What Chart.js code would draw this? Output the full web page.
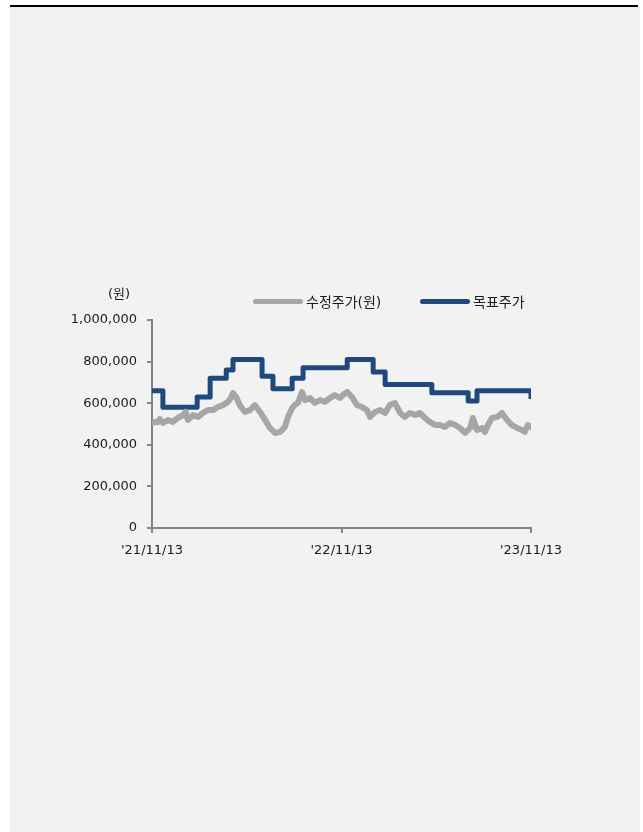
<!DOCTYPE html>
<html lang="ko">
<head>
<meta charset="utf-8">
<title>수정주가 / 목표주가</title>
<script src="https://cdn.jsdelivr.net/npm/chart.js@4/dist/chart.umd.min.js"></script>
<style>
    html, body { margin: 0; padding: 0; background: #ffffff; }
    body { width: 643px; height: 832px; position: relative; overflow: hidden;
           font-family: 'DejaVu Sans', 'Noto Sans CJK KR', sans-serif; color: #1a1a1a; }
    .top-rule { position: absolute; left: 10px; top: 5px; width: 628px; height: 2px; background: #000; }
    .panel { position: absolute; left: 10px; top: 7px; width: 630px; height: 825px; background: #f2f2f2; }
    #chartBox { position: absolute; left: 0; top: 0; width: 630px; height: 825px; }
    .unit { position: absolute; left: 98px; top: 276px; font-size: 13px; }
    .legend { position: absolute; top: 284px; font-size: 14px; display: flex; align-items: center; }
    .legend i { display: inline-block; width: 50px; height: 5px; border-radius: 3px; margin-right: 3px; }
</style>
</head>
<body>
<div class="top-rule"></div>
<div class="panel">
    <div id="chartBox"><canvas id="priceChart"></canvas></div>
    <div class="unit">(원)</div>
    <div class="legend" style="left:243px"><i style="background:#a6a6a6"></i>수정주가(원)</div>
    <div class="legend" style="left:410px"><i style="background:#1f497d"></i>목표주가</div>
</div>

<script>
// 날짜: '21/11/13 기준 경과일
const X_TICKS = [0, 365, 730];
const X_LABELS = ["'21/11/13", "'22/11/13", "'23/11/13"];

// 수정주가
const PRICE_DAYS = [0, 6, 12, 15, 21, 31, 40, 50, 60, 65, 69, 79, 89, 98, 108, 118, 127, 137, 146, 152,
    156, 162, 169, 179, 189, 198, 208, 218, 227, 237, 247, 256, 262, 270, 275, 281, 289, 295, 304, 314,
    324, 333, 343, 352, 362, 370, 376, 385, 395, 404, 414, 420, 430, 439, 449, 458, 468, 478, 487, 497,
    507, 516, 526, 535, 545, 555, 564, 574, 584, 593, 603, 613, 618, 626, 636, 641, 647, 655, 665, 674,
    684, 693, 703, 713, 718, 724, 730];
const PRICE_VALUES = [505000, 510000, 510000, 524000, 505000, 519000, 510000, 529000, 543000, 558000,
    519000, 543000, 534000, 553000, 567000, 567000, 582000, 591000, 606000, 625000,
    649000, 630000, 591000, 558000, 567000, 591000, 558000, 519000, 481000, 457000,
    462000, 486000, 534000, 577000, 591000, 601000, 654000, 615000, 625000, 601000,
    615000, 606000, 625000, 639000, 625000, 644000, 654000, 630000, 591000, 582000,
    567000, 534000, 558000, 567000, 553000, 591000, 601000, 553000, 534000, 553000,
    543000, 553000, 529000, 510000, 495000, 495000, 486000, 505000, 495000, 481000,
    457000, 481000, 529000, 471000, 481000, 462000, 495000, 529000, 534000, 553000,
    519000, 495000, 481000, 471000, 462000, 495000, 486000];

// 목표주가 (변경일, 변경 후 가격)
const TARGET_DAYS = [0, 21, 87, 112, 143, 156, 212, 233, 270, 291, 376, 426, 449, 539, 609, 626, 730];
const TARGET_VALUES = [660000, 580000, 630000, 720000, 760000, 810000, 730000, 670000, 720000, 770000,
    810000, 750000, 690000, 650000, 610000, 660000, 620000];

const FONT = "'DejaVu Sans', 'Noto Sans CJK KR', sans-serif";
const AXIS_COLOR = '#858585';

function toPoints(xs, ys) {
    return xs.map((x, i) => ({ x: x, y: ys[i] }));
}

window.onload = function() {
    const ctx = document.getElementById('priceChart');
    new Chart(ctx, {
        type: 'line',
        data: {
            datasets: [{
                label: '수정주가(원)',
                data: toPoints(PRICE_DAYS, PRICE_VALUES),
                borderColor: '#a6a6a6',
                borderWidth: 6,
                pointRadius: 0,
                tension: 0,
                borderJoinStyle: 'round',
                borderCapStyle: 'round'
            }, {
                label: '목표주가',
                data: toPoints(TARGET_DAYS, TARGET_VALUES),
                borderColor: '#1f497d',
                borderWidth: 5,
                pointRadius: 0,
                stepped: 'before',
                borderJoinStyle: 'round'
            }]
        },
        options: {
            responsive: true,
            maintainAspectRatio: false,
            animation: false,
            layout: { padding: { left: 0, top: 313, right: 109, bottom: 264 } },
            plugins: { legend: { display: false }, tooltip: { enabled: false } },
            scales: {
                x: {
                    type: 'linear',
                    min: 0,
                    max: 730,
                    afterBuildTicks: s => { s.ticks = X_TICKS.map(v => ({ value: v })); },
                    afterFit: s => { s.height = 40; s.paddingLeft = 0; s.paddingRight = 0; },
                    grid: { drawOnChartArea: false, drawTicks: true, tickLength: 5, color: AXIS_COLOR, lineWidth: 2 },
                    border: { color: AXIS_COLOR, width: 2 },
                    ticks: {
                        maxRotation: 0,
                        padding: 10,
                        color: '#1a1a1a',
                        font: { family: FONT, size: 13 },
                        callback: v => X_LABELS[X_TICKS.indexOf(v)]
                    }
                },
                y: {
                    min: 0,
                    max: 1000000,
                    afterFit: s => { s.width = 142; },
                    grid: { drawOnChartArea: false, drawTicks: true, tickLength: 5, color: AXIS_COLOR, lineWidth: 2 },
                    border: { color: AXIS_COLOR, width: 2 },
                    ticks: {
                        stepSize: 200000,
                        padding: 10,
                        color: '#1a1a1a',
                        font: { family: FONT, size: 13 },
                        callback: v => v.toLocaleString('en-US')
                    }
                }
            }
        }
    });
};
</script>
</body>
</html>
